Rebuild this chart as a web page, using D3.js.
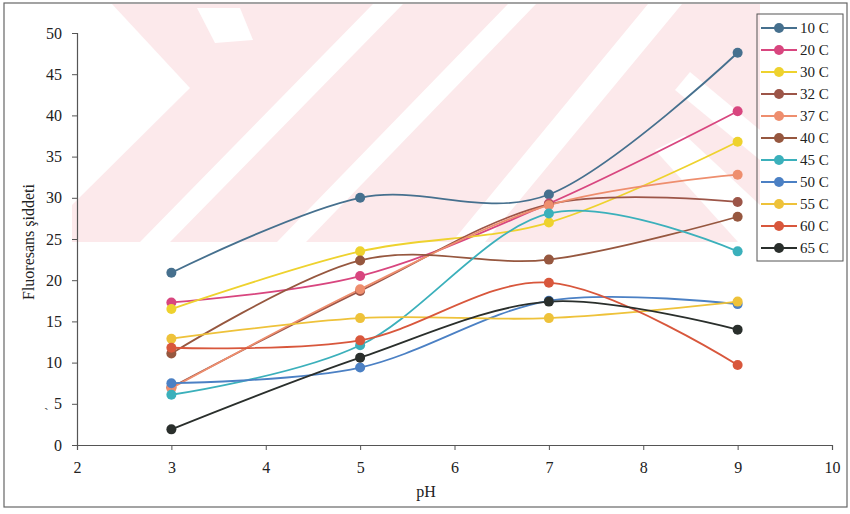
<!DOCTYPE html>
<html><head><meta charset="utf-8">
<script src="https://cdn.jsdelivr.net/npm/d3@7"></script>
<style>body{margin:0;background:#fff}svg{display:block}</style>
</head><body><svg id="c" width="850" height="514"></svg>
<script>
const pH = [3, 5, 7, 9];
const seriesNames = ["10 C","20 C","30 C","32 C","37 C","40 C","45 C","50 C","55 C","60 C","65 C"];
const s10 = [20.9, 30.0, 30.4, 47.6];
const s20 = [17.3, 20.5, 29.3, 40.5];
const s30 = [16.5, 23.5, 27.0, 36.8];
const s32 = [7.0, 18.7, 29.2, 29.5];
const s37 = [6.9, 18.9, 29.1, 32.8];
const s40 = [11.1, 22.4, 22.5, 27.7];
const s45 = [6.1, 12.1, 28.1, 23.5];
const s50 = [7.5, 9.4, 17.5, 17.1];
const s55 = [12.9, 15.4, 15.4, 17.4];
const s60 = [11.8, 12.7, 19.7, 9.7];
const s65 = [1.9, 10.6, 17.4, 14.0];
const seriesValues = [s10,s20,s30,s32,s37,s40,s45,s50,s55,s60,s65];
const colors = ["#46708e","#d8467f","#eed22e","#9c5548","#ee8e6e","#96573f","#3bb0bb","#4b80c4","#eec23a","#d8573c","#2a2f2c"];
const xTicks = [2,3,4,5,6,7,8,9,10];
const yTicks = [0,5,10,15,20,25,30,35,40,45,50];

const svg = d3.select("#c");
const font = "'Liberation Serif','Times New Roman',serif";

// watermark background
const wm = svg.append("g");
wm.append("rect").attr("x",72).attr("y",4).attr("width",688).attr("height",238).attr("fill","#fce9eb");
const whites = [
  [[72,4],[112,4],[190,88],[72,205]],
  [[197,8],[240,8],[253,40],[215,43]],
  [[373,4],[403,4],[170,242],[140,242]],
  [[508,4],[536,4],[306,242],[277,242]],
  [[648,4],[682,4],[485,242],[452,242]],
  [[690,72],[760,130],[760,160],[675,90]],
  [[655,150],[685,135],[760,205],[760,242],[738,242]]
];
whites.forEach(p=>wm.append("polygon").attr("points",p.map(q=>q.join(",")).join(" ")).attr("fill","#ffffff"));

// frame
svg.append("rect").attr("x",4).attr("y",3).attr("width",843).attr("height",504)
  .attr("fill","none").attr("stroke","#666").attr("stroke-width",1.2);

const x = d3.scaleLinear().domain([2,10]).range([77,832]);
const y = d3.scaleLinear().domain([0,50]).range([445,33]);

const xAxis = svg.append("g").attr("transform","translate(0,445)")
  .call(d3.axisBottom(x).tickValues(xTicks).tickSize(5).tickPadding(12).tickFormat(d3.format("d")));
const yAxis = svg.append("g").attr("transform","translate(77,0)")
  .call(d3.axisLeft(y).tickValues(yTicks).tickSize(5).tickPadding(10).tickFormat(d3.format("d")));
[xAxis,yAxis].forEach(a=>{
  a.select(".domain").attr("stroke","#555").attr("stroke-width",1.2);
  a.selectAll(".tick line").attr("stroke","#555");
  a.selectAll("text").attr("font-family",font).attr("font-size",16).attr("fill","#222");
});

svg.append("text").attr("x",426).attr("y",497).attr("text-anchor","middle")
  .attr("font-family",font).attr("font-size",16).attr("fill","#222").text("pH");
svg.append("text").attr("transform","translate(34,242) rotate(-90)").attr("text-anchor","middle")
  .attr("font-family",font).attr("font-size",16).attr("fill","#222").text("Fluoresans şiddeti");
svg.append("text").attr("x",44).attr("y",418).attr("font-family",font).attr("font-size",14).attr("fill","#444").text("`");

const line = d3.line().x((d,i)=>x(pH[i])).y(d=>y(d)).curve(d3.curveCardinal.tension(0));

const g = svg.append("g");
seriesValues.forEach((vals,k)=>{
  g.append("path").datum(vals).attr("d",line).attr("fill","none")
    .attr("stroke",colors[k]).attr("stroke-width",1.8);
});
seriesValues.forEach((vals,k)=>{
  g.selectAll(null).data(vals).enter().append("circle")
    .attr("cx",(d,i)=>x(pH[i])).attr("cy",d=>y(d)).attr("r",5).attr("fill",colors[k]);
});

// legend
const lg = svg.append("g");
lg.append("rect").attr("x",757).attr("y",14).attr("width",86).attr("height",247)
  .attr("fill","none").attr("stroke","#555").attr("stroke-width",1);
seriesNames.forEach((n,k)=>{
  const yy = 28 + k*22;
  lg.append("line").attr("x1",761).attr("x2",797).attr("y1",yy).attr("y2",yy)
    .attr("stroke",colors[k]).attr("stroke-width",1.8);
  lg.append("circle").attr("cx",779).attr("cy",yy).attr("r",5).attr("fill",colors[k]);
  lg.append("text").attr("x",800).attr("y",yy+5).attr("font-family",font).attr("font-size",15)
    .attr("fill","#222").text(n);
});
</script></body></html>
